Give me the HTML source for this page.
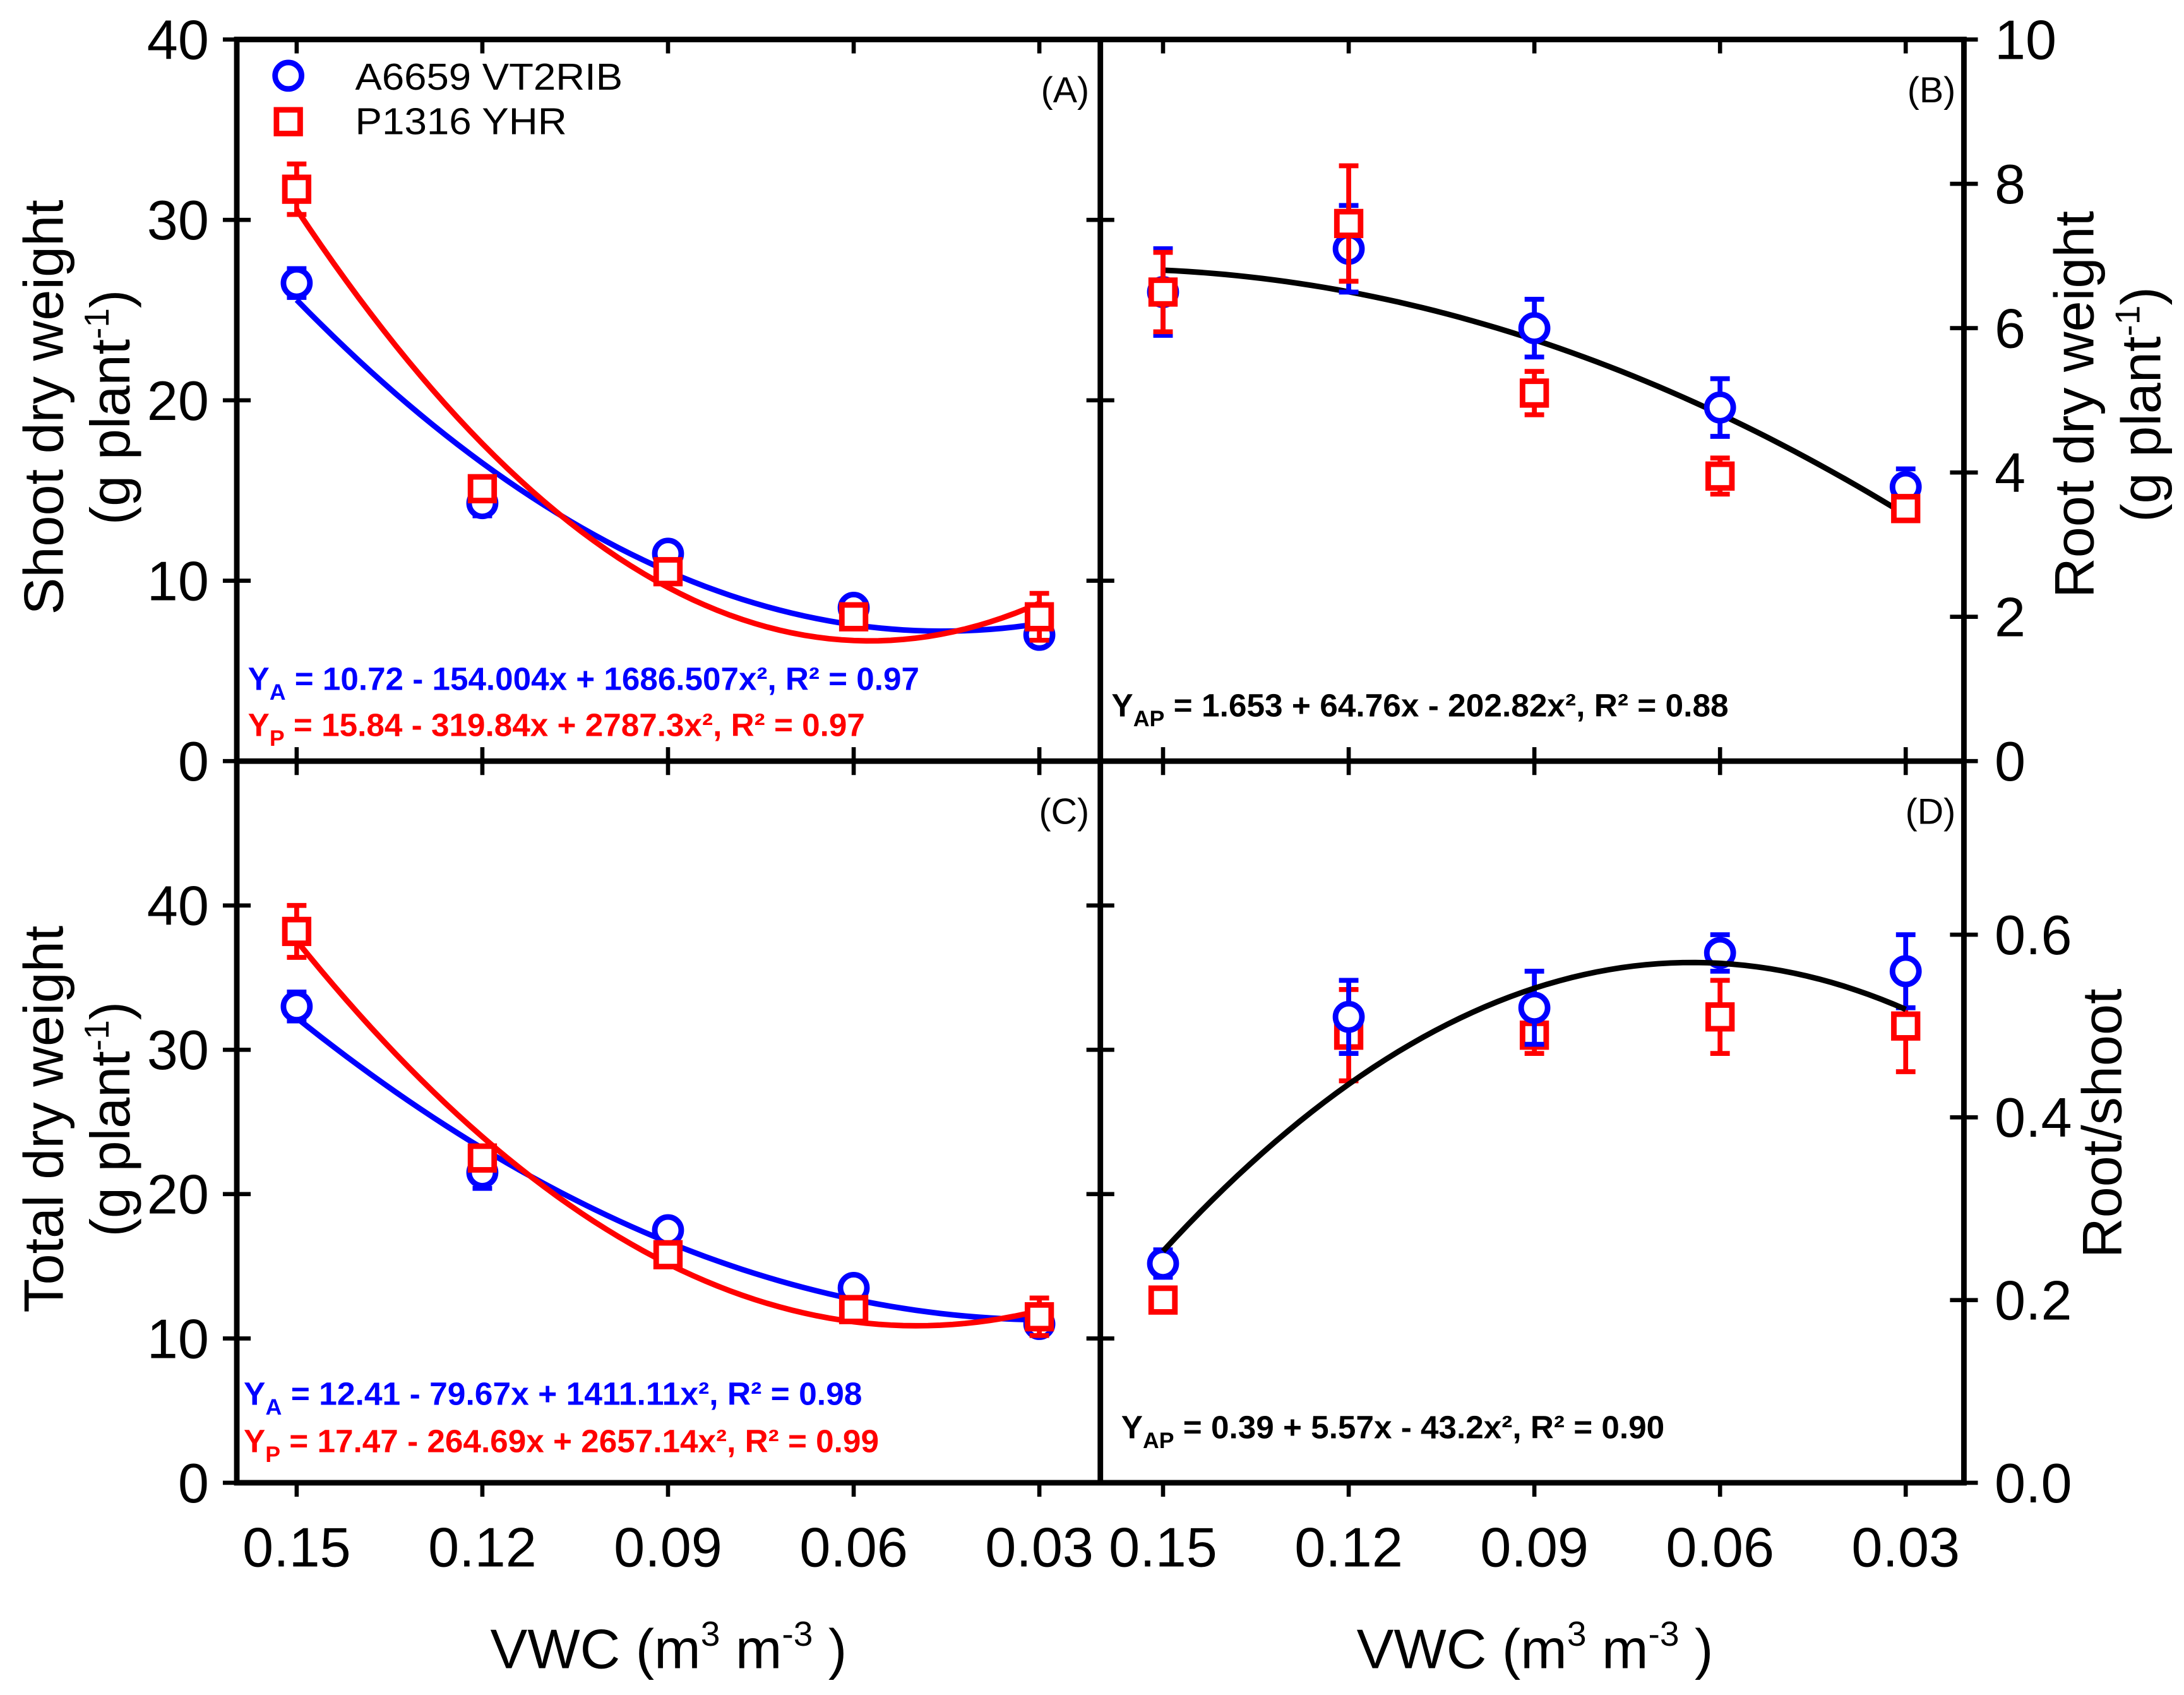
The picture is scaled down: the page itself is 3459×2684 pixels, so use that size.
<!DOCTYPE html>
<html><head><meta charset="utf-8"><style>html,body{margin:0;padding:0;background:#fff}svg{display:block}</style></head>
<body>
<svg id="chart" xmlns="http://www.w3.org/2000/svg" width="3459" height="2684" viewBox="0 0 1568 1216" font-family="Liberation Sans, Arial, sans-serif"></svg>
<script>
const xCats = [0.15, 0.12, 0.09, 0.06, 0.03];
const xTickLabels = ["0.15","0.12","0.09","0.06","0.03"];
// Panel A shoot
const shootA = [26.5, 14.3, 11.5, 8.5, 7.0];
const shootAErr = [0.8, 0.7, 0.4, 0.4, 0.5];
const shootP = [31.7, 15.1, 10.5, 8.0, 8.0];
const shootPErr = [1.4, 0.6, 0.6, 0.5, 1.3];
const shootCoefA = [10.72, -154.004, 1686.507];
const shootCoefP = [15.84, -319.84, 2787.3];
// Panel B root
const rootA = [6.5, 7.1, 6.0, 4.9, 3.8];
const rootAErr = [0.6, 0.6, 0.4, 0.4, 0.25];
const rootP = [6.5, 7.45, 5.1, 3.95, 3.5];
const rootPErr = [0.55, 0.8, 0.3, 0.25, 0.15];
const rootCoef = [1.653, 64.76, -202.82];
// Panel C total
const totA = [33.0, 21.5, 17.5, 13.5, 11.0];
const totAErr = [1.0, 1.1, 0.5, 0.6, 0.6];
const totP = [38.2, 22.5, 15.8, 12.0, 11.5];
const totPErr = [1.8, 0.8, 0.6, 0.6, 1.3];
const totCoefA = [12.41, -79.67, 1411.11];
const totCoefP = [17.47, -264.69, 2657.14];
// Panel D root/shoot
const rsA = [0.24, 0.51, 0.52, 0.58, 0.56];
const rsAErr = [0.015, 0.04, 0.04, 0.02, 0.04];
const rsP = [0.20, 0.49, 0.49, 0.51, 0.50];
const rsPErr = [0.0, 0.05, 0.02, 0.04, 0.05];
const rsCoef = [0.39, 5.57, -43.2];
const ticksA = [0,10,20,30,40];
const ticksB = [0,2,4,6,8,10];
const ticksC = [0,10,20,30,40];
const ticksD = ["0.0","0.2","0.4","0.6"];

const NS = "http://www.w3.org/2000/svg";
const svg = document.getElementById('chart');
function el(tag, attrs, parent, text){
  const e = document.createElementNS(NS, tag);
  for (const k in attrs) e.setAttribute(k, attrs[k]);
  if (text !== undefined) e.textContent = text;
  (parent||svg).appendChild(e);
  return e;
}
const BLUE="#0000ff", RED="#ff0000";
function panel(x0,x1,y0,y1,ymax,name){
  const sx = v => x0 + 43 + (0.15 - v)/0.03*133.3;
  const sy = v => y1 - v/ymax*(y1-y0);
  return {x0,x1,y0,y1,sx,sy,name};
}
const P = {
  A: panel(170,790,28,546,40,'a'),
  B: panel(790,1410,28,546,10,'b'),
  C: panel(170,790,546,1064,50,'c'),
  D: panel(790,1410,546,1064,0.79,'d')
};
P.B.sx = v => 835 + (0.15-v)/0.03*133.3;
P.D.sx = P.B.sx;

function drawCurve(p, coef, color, name){
  let d="";
  for(let i=0;i<=60;i++){
    const x = 0.15 - i*0.12/60;
    const y = coef[0]+coef[1]*x+coef[2]*x*x;
    d += (i?"L":"M")+p.sx(x).toFixed(2)+","+p.sy(y).toFixed(2);
  }
  const e = el('path',{d,fill:'none',stroke:color,'stroke-width':4});
  
  
}
function drawSeries(p, vals, errs, color, shape, name){
  const g = el('g',{});
  
  
  vals.forEach((v,i)=>{
    const cx = p.sx(xCats[i]), cy = p.sy(v);
    if (errs[i]>0){
      const yt = p.sy(v+errs[i]), yb = p.sy(v-errs[i]);
      el('line',{x1:cx,x2:cx,y1:yt,y2:yb,stroke:color,'stroke-width':3.5},g);
      el('line',{x1:cx-7,x2:cx+7,y1:yt,y2:yt,stroke:color,'stroke-width':3.5},g);
      el('line',{x1:cx-7,x2:cx+7,y1:yb,y2:yb,stroke:color,'stroke-width':3.5},g);
    }
    let m;
    if(shape==='circle') m = el('circle',{cx,cy,r:9.5,fill:'#fff',stroke:color,'stroke-width':4},g);
    else m = el('rect',{x:cx-8.5,y:cy-8.5,width:17,height:17,fill:'#fff',stroke:color,'stroke-width':4},g);
    
    
  });
}

drawCurve(P.A, shootCoefA, BLUE, 'fit-a-blue');
drawCurve(P.A, shootCoefP, RED, 'fit-a-red');
drawSeries(P.A, shootA, shootAErr, BLUE, 'circle', 'shoot-a6659');
drawSeries(P.A, shootP, shootPErr, RED, 'square', 'shoot-p1316');
drawCurve(P.B, rootCoef, '#000', 'fit-b');
drawSeries(P.B, rootA, rootAErr, BLUE, 'circle', 'root-a6659');
drawSeries(P.B, rootP, rootPErr, RED, 'square', 'root-p1316');
drawCurve(P.C, totCoefA, BLUE, 'fit-c-blue');
drawCurve(P.C, totCoefP, RED, 'fit-c-red');
drawSeries(P.C, totA, totAErr, BLUE, 'circle', 'total-a6659');
drawSeries(P.C, totP, totPErr, RED, 'square', 'total-p1316');
drawSeries(P.D, rsP, rsPErr, RED, 'square', 'rs-p1316');
drawSeries(P.D, rsA, rsAErr, BLUE, 'circle', 'rs-a6659');
drawCurve(P.D, rsCoef, '#000', 'fit-d');

const fr = el('g',{stroke:'#000','stroke-width':4,fill:'none'});


el('rect',{x:170,y:28,width:1240,height:1036},fr);
el('line',{x1:790,x2:790,y1:28,y2:1064},fr);
el('line',{x1:170,x2:1410,y1:546,y2:546},fr);

[P.A,P.B].forEach(p=>{
  xCats.forEach(v=>{
    const x=p.sx(v);
    el('line',{x1:x,x2:x,y1:28,y2:38,stroke:'#000','stroke-width':3});
    el('line',{x1:x,x2:x,y1:536,y2:556,stroke:'#000','stroke-width':3});
    el('line',{x1:x,x2:x,y1:1064,y2:1074,stroke:'#000','stroke-width':3});
  });
});
[P.C,P.D].forEach((p,j)=>{
  xCats.forEach((v,i)=>{
    const t=el('text',{x:p.sx(v),y:1124,'font-size':40,'text-anchor':'middle'},svg,xTickLabels[i]);
    
    
  });
});
function leftTicks(p, ticks){
  ticks.forEach(v=>{
    const y=p.sy(v);
    el('line',{x1:160,x2:180,y1:y,y2:y,stroke:'#000','stroke-width':3});
    if(v>0 && v<(p===P.A?40:50)) el('line',{x1:780,x2:800,y1:y,y2:y,stroke:'#000','stroke-width':3});
    const t=el('text',{x:150,y:y+14,'font-size':40,'text-anchor':'end'},svg,String(v));
    
    
  });
}
leftTicks(P.A, ticksA);
leftTicks(P.C, ticksC);
ticksB.forEach(v=>{
  const y=P.B.sy(v);
  el('line',{x1:1400,x2:1420,y1:y,y2:y,stroke:'#000','stroke-width':3});
  const t=el('text',{x:1432,y:y+14,'font-size':40},svg,String(v));
  
  
});
ticksD.forEach(v=>{
  const y=P.D.sy(parseFloat(v));
  el('line',{x1:1400,x2:1420,y1:y,y2:y,stroke:'#000','stroke-width':3});
  const t=el('text',{x:1432,y:y+14,'font-size':40},svg,v);
  
  
});
</script>
<script>
const s2=document.getElementById('chart');
s2.insertAdjacentHTML('beforeend', `
<g>
 <circle cx="207" cy="54" r="9.5" fill="#fff" stroke="#0000ff" stroke-width="4"/>
 <text x="255" y="64" font-size="27" textLength="192" lengthAdjust="spacingAndGlyphs">A6659 VT2RIB</text>
 <rect x="198.5" y="78.5" width="17" height="17" fill="#fff" stroke="#ff0000" stroke-width="4"/>
 <text x="255" y="96" font-size="27" textLength="152" lengthAdjust="spacingAndGlyphs">P1316 YHR</text>
</g>
<text x="782" y="73" font-size="26" text-anchor="end">(A)</text>
<text x="1404" y="73" font-size="26" text-anchor="end">(B)</text>
<text x="782" y="591" font-size="26" text-anchor="end">(C)</text>
<text x="1404" y="591" font-size="26" text-anchor="end">(D)</text>
<g font-weight="bold" font-size="23">
<text x="178" y="495" fill="#0000ff" textLength="482" lengthAdjust="spacingAndGlyphs">Y<tspan font-size="16" dy="7">A</tspan><tspan dy="-7"> = 10.72 - 154.004x + 1686.507x², R² = 0.97</tspan></text>
<text x="178" y="528" fill="#ff0000" textLength="443" lengthAdjust="spacingAndGlyphs">Y<tspan font-size="16" dy="7">P</tspan><tspan dy="-7"> = 15.84 - 319.84x + 2787.3x², R² = 0.97</tspan></text>
<text x="798" y="514" textLength="443" lengthAdjust="spacingAndGlyphs">Y<tspan font-size="16" dy="7">AP</tspan><tspan dy="-7"> = 1.653 + 64.76x - 202.82x², R² = 0.88</tspan></text>
<text x="175" y="1008" fill="#0000ff" textLength="444" lengthAdjust="spacingAndGlyphs">Y<tspan font-size="16" dy="7">A</tspan><tspan dy="-7"> = 12.41 - 79.67x + 1411.11x², R² = 0.98</tspan></text>
<text x="175" y="1042" fill="#ff0000" textLength="456" lengthAdjust="spacingAndGlyphs">Y<tspan font-size="16" dy="7">P</tspan><tspan dy="-7"> = 17.47 - 264.69x + 2657.14x², R² = 0.99</tspan></text>
<text x="805" y="1032" textLength="390" lengthAdjust="spacingAndGlyphs">Y<tspan font-size="16" dy="7">AP</tspan><tspan dy="-7"> = 0.39 + 5.57x - 43.2x², R² = 0.90</tspan></text>
</g>
<g font-size="40">
<text transform="translate(45,292) rotate(-90)" text-anchor="middle">Shoot dry weight</text>
<text transform="translate(93,292) rotate(-90)" text-anchor="middle">(g plant<tspan font-size="25" dy="-15">-1</tspan><tspan dy="15">)</tspan></text>
<text transform="translate(45,803) rotate(-90)" text-anchor="middle">Total dry weight</text>
<text transform="translate(93,803) rotate(-90)" text-anchor="middle">(g plant<tspan font-size="25" dy="-15">-1</tspan><tspan dy="15">)</tspan></text>
<text transform="translate(1503,290) rotate(-90)" text-anchor="middle">Root dry weight</text>
<text transform="translate(1551,290) rotate(-90)" text-anchor="middle">(g plant<tspan font-size="25" dy="-15">-1</tspan><tspan dy="15">)</tspan></text>
<text transform="translate(1523,806) rotate(-90)" text-anchor="middle">Root/shoot</text>
<text x="480" y="1197" text-anchor="middle">VWC (m<tspan font-size="25" dy="-16">3</tspan><tspan dy="16"> m</tspan><tspan font-size="25" dy="-16">-3</tspan><tspan dy="16"> )</tspan></text>
<text x="1102" y="1197" text-anchor="middle">VWC (m<tspan font-size="25" dy="-16">3</tspan><tspan dy="16"> m</tspan><tspan font-size="25" dy="-16">-3</tspan><tspan dy="16"> )</tspan></text>
</g>`);
</script>
</body></html>
